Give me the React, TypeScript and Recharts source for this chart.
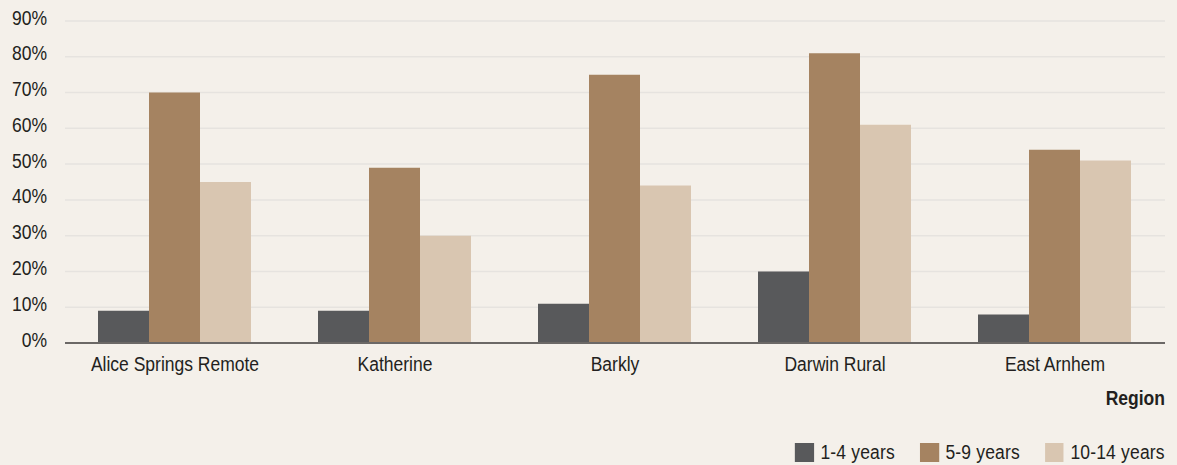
import React from "react";
import { BarChart, Bar, XAxis, YAxis, CartesianGrid, Legend } from "recharts";

const regions = ["Alice Springs Remote", "Katherine", "Barkly", "Darwin Rural", "East Arnhem"];
const years1to4 = [9, 9, 11, 20, 8];
const years5to9 = [70, 49, 75, 81, 54];
const years10to14 = [45, 30, 44, 61, 51];
const yTicks = [0, 10, 20, 30, 40, 50, 60, 70, 80, 90];
const seriesNames = ["1-4 years", "5-9 years", "10-14 years"];
const axisTitle = "Region";

const data = regions.map((r, i) => ({
  region: r,
  a: years1to4[i],
  b: years5to9[i],
  c: years10to14[i],
}));

const FONT = '"Liberation Sans", Arial, sans-serif';
const TEXT = "#231f20";
const BG = "#f4f0ea";
const SX = 0.875; // horizontal condensing to imitate a condensed face

const LegendContent = (props: any) => {
  const payload = [...(props.payload || [])].sort(
    (p: any, q: any) => seriesNames.indexOf(p.value) - seriesNames.indexOf(q.value)
  );
  return (
    <div style={{ display: "flex", justifyContent: "flex-end" }}>
      <div
        style={{
          display: "flex",
          alignItems: "center",
          height: 22,
          fontFamily: FONT,
          fontSize: 20,
          color: TEXT,
          transform: `scaleX(${SX})`,
          transformOrigin: "right center",
        }}
      >
        {payload.map((p: any, i: number) => (
          <div key={i} style={{ display: "flex", alignItems: "center", marginLeft: i === 0 ? 0 : 28.5 }}>
            <span style={{ display: "inline-block", width: 21.7, height: 19, background: p.color, marginRight: 7.5 }} />
            <span style={{ lineHeight: "22px", whiteSpace: "nowrap", letterSpacing: 0.2 }}>{p.value}</span>
          </div>
        ))}
      </div>
    </div>
  );
};

const XTick = (props: any) => {
  const { x, y, payload } = props;
  return (
    <g transform={`translate(${x},${y}) scale(${SX},1)`}>
      <text x={0} y={15} textAnchor="middle" fontFamily={FONT} fontSize={20} fill={TEXT}>
        {payload.value}
      </text>
    </g>
  );
};

const YTick = (props: any) => {
  const { x, y, payload } = props;
  return (
    <g transform={`translate(${x},${y}) scale(${SX},1)`}>
      <text x={0} y={3.5} textAnchor="end" fontFamily={FONT} fontSize={20} fill={TEXT}>
        {`${payload.value}%`}
      </text>
    </g>
  );
};

const RegionLabel = (props: any) => {
  const vb = props.viewBox || {};
  return (
    <g transform={`translate(${vb.x + vb.width},${vb.y + 62}) scale(${SX},1)`}>
      <text x={0} y={0} textAnchor="end" fontFamily={FONT} fontSize={20} fontWeight="bold" fill={TEXT}>
        {axisTitle}
      </text>
    </g>
  );
};

export default function App() {
  return (
    <div style={{ position: "absolute", left: 0, top: 0, width: 1177, height: 465, background: BG }}>
      <BarChart
        width={1177}
        height={465}
        data={data}
        margin={{ top: 21, right: 12, left: 0, bottom: 2 }}
        barCategoryGap="15%"
        barGap={0}
      >
        <CartesianGrid vertical={false} stroke="#e6e3df" strokeWidth={1.5} />
        <YAxis
          width={65}
          domain={[0, 90]}
          ticks={yTicks}
          axisLine={false}
          tickLine={false}
          tickSize={0}
          tickMargin={18}
          tick={<YTick />}
          interval={0}
        />
        <XAxis
          dataKey="region"
          height={98}
          axisLine={{ stroke: "#6b6866", strokeWidth: 2 }}
          tickLine={false}
          tickSize={0}
          tickMargin={13}
          tick={<XTick />}
          interval={0}
          label={<RegionLabel />}
        />
        <Legend verticalAlign="bottom" align="right" content={<LegendContent />} />
        <Bar dataKey="a" name={seriesNames[0]} fill="#58595b" isAnimationActive={false} />
        <Bar dataKey="b" name={seriesNames[1]} fill="#a58361" isAnimationActive={false} />
        <Bar dataKey="c" name={seriesNames[2]} fill="#d9c6b1" isAnimationActive={false} />
      </BarChart>
    </div>
  );
}
